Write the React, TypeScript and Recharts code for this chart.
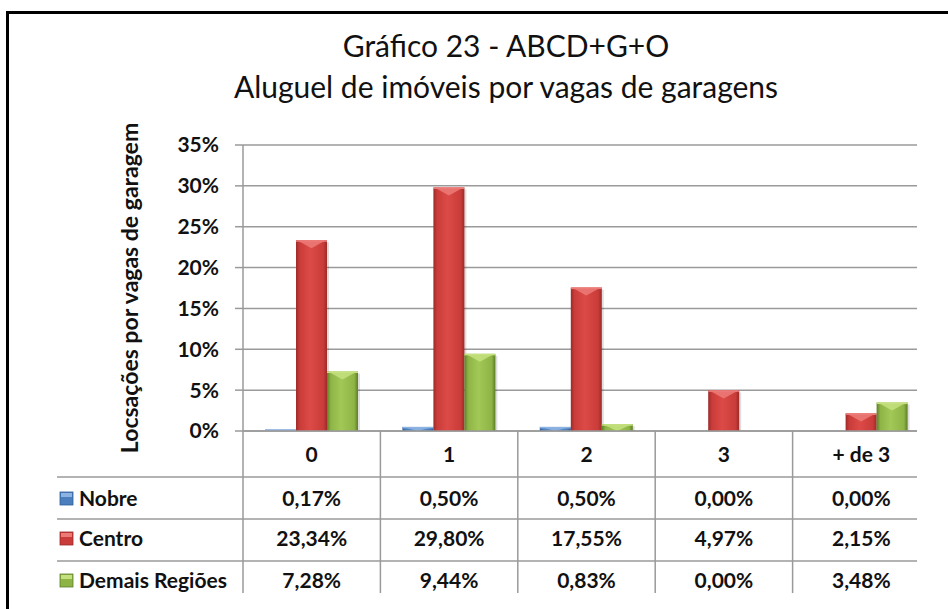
import React from 'react';
import { BarChart, Bar, XAxis, YAxis, CartesianGrid } from 'recharts';

const categories = ['0', '1', '2', '3', '+ de 3'];
const nobre = [0.17, 0.5, 0.5, 0.0, 0.0];
const centro = [23.34, 29.8, 17.55, 4.97, 2.15];
const demais = [7.28, 9.44, 0.83, 0.0, 3.48];
const yTicks = [0, 5, 10, 15, 20, 25, 30, 35];

const series = [
  { key: 'nobre', name: 'Nobre', values: nobre, dark: '#2f5f99', mid: '#4a7ebc', light: '#6e9ad0', top: '#8db3e2' },
  { key: 'centro', name: 'Centro', values: centro, dark: '#9c2b29', mid: '#c93c39', light: '#dc4a47', top: '#ec7b78' },
  { key: 'demais', name: 'Demais Regiões', values: demais, dark: '#5f7d28', mid: '#8db445', light: '#a2c957', top: '#c4e07f' },
];

const data = categories.map((c, i) => {
  const row: Record<string, any> = { cat: c };
  series.forEach((s) => (row[s.key] = s.values[i]));
  return row;
});

const W = 948;
const H = 609;
const PLOT_LEFT = 243;
const PLOT_RIGHT = 930;
const PLOT_TOP = 145;
const PLOT_BOTTOM = 431;
const CAT_W = (PLOT_RIGHT - PLOT_LEFT) / categories.length;
const ROW_LINES = [477, 519, 561];
const GRID = '#9a9a9a';
const FONT = 'Lato, "Noto Sans", sans-serif';

const fmt = (v: number) => v.toFixed(2).replace('.', ',') + '%';

const textStyle = { fontFamily: FONT, fontSize: 21, fontWeight: 700, fill: '#111' };

const BevelBar = (props: any) => {
  const { x, y, width, height, index, dataKey } = props;
  if (!height || height <= 0) return null;
  const s = series.find((d) => d.key === dataKey) || series[0];
  const id = `g-${dataKey}-${index}`;
  const b = Math.min(height, 8);
  return (
    <g>
      <defs>
        <linearGradient id={id} x1="0" y1="0" x2="1" y2="0">
          <stop offset="0%" stopColor={s.dark} />
          <stop offset="12%" stopColor={s.mid} />
          <stop offset="45%" stopColor={s.light} />
          <stop offset="88%" stopColor={s.mid} />
          <stop offset="100%" stopColor={s.dark} />
        </linearGradient>
      </defs>
      <rect x={x + 2} y={y + 2} width={width} height={Math.max(0, height - 2)} fill="rgba(0,0,0,0.13)" />
      <rect x={x} y={y} width={width} height={height} fill={`url(#${id})`} />
      <polygon points={`${x + 1},${y} ${x + width - 1},${y} ${x + width / 2},${y + b}`} fill={s.top} opacity={0.85} />
      <rect x={x} y={y} width={width} height={Math.min(height, 1.5)} fill={s.top} />
    </g>
  );
};

const TableTick = (props: any) => {
  const { x, y, payload } = props;
  const i = payload.index;
  const left = x - CAT_W / 2;
  return (
    <g>
      <line x1={left} x2={left} y1={PLOT_BOTTOM} y2={H} stroke={GRID} strokeWidth={1.5} />
      <text x={x} y={y + 31} textAnchor="middle" style={textStyle}>
        {payload.value}
      </text>
      {series.map((s, r) => (
        <text key={s.key} x={x} y={ROW_LINES[r] + 29 - (r > 0 ? 2 : 0)} textAnchor="middle" style={textStyle}>
          {fmt(s.values[i])}
        </text>
      ))}
    </g>
  );
};

export default function App() {
  return (
    <div style={{ position: 'absolute', left: 0, top: 0, width: W, height: H, background: '#fff', overflow: 'hidden' }}>
      <div style={{ position: 'absolute', left: 0, top: 0, width: 917, height: 593, overflow: 'hidden' }}>
        <BarChart
          width={W}
          height={H}
          data={data}
          margin={{ top: PLOT_TOP, right: W - PLOT_RIGHT, left: 0, bottom: 0 }}
          barGap={0}
          barSize={31}
        >
          <CartesianGrid vertical={false} stroke={GRID} strokeWidth={1.5} />
          <YAxis
            width={PLOT_LEFT}
            domain={[0, 35]}
            ticks={yTicks}
            tickFormatter={(v: number) => `${v}%`}
            tick={textStyle}
            tickSize={8}
            tickMargin={16}
            tickLine={{ stroke: GRID, strokeWidth: 1.5 }}
            axisLine={{ stroke: GRID, strokeWidth: 1.5 }}
          />
          <XAxis
            dataKey="cat"
            height={H - PLOT_BOTTOM}
            interval={0}
            tickSize={0}
            tickMargin={0}
            tickLine={false}
            axisLine={{ stroke: GRID, strokeWidth: 1.5 }}
            tick={<TableTick />}
          />
          {series.map((s) => (
            <Bar key={s.key} dataKey={s.key} name={s.name} fill={s.mid} shape={<BevelBar />} isAnimationActive={false} />
          ))}
        </BarChart>
        <svg width={W} height={H} style={{ position: 'absolute', left: 0, top: 0, pointerEvents: 'none' }}>
          <text x={506} y={57} textAnchor="middle" style={{ fontFamily: FONT, fontSize: 30, fill: '#111' }}>
            Gráfico 23 - ABCD+G+O
          </text>
          <text x={506} y={98} textAnchor="middle" style={{ fontFamily: FONT, fontSize: 30, fill: '#111' }}>
            Aluguel de imóveis por vagas de garagens
          </text>
          <text
            x={138}
            y={(PLOT_TOP + PLOT_BOTTOM) / 2}
            textAnchor="middle"
            transform={`rotate(-90 138 ${(PLOT_TOP + PLOT_BOTTOM) / 2})`}
            style={{ ...textStyle, fontSize: 23 }}
          >
            Locsações por vagas de garagem
          </text>
          {ROW_LINES.map((ly) => (
            <line key={ly} x1={57} x2={917} y1={ly} y2={ly} stroke={GRID} strokeWidth={1.5} />
          ))}
          {series.map((s, r) => {
            const base = ROW_LINES[r] + 29 - (r > 0 ? 2 : 0);
            return (
              <g key={s.key}>
                <rect x={60} y={base - 14} width={13} height={13} fill={s.mid} stroke={s.dark} strokeWidth={0.8} />
                <rect x={61} y={base - 13} width={11} height={4} fill={s.top} />
                <text x={79} y={base} style={textStyle}>
                  {s.name}
                </text>
              </g>
            );
          })}
        </svg>
      </div>
      <div
        style={{
          position: 'absolute',
          left: 6,
          top: 11,
          width: W + 20,
          height: H + 20,
          borderLeft: '3px solid #000',
          borderTop: '3px solid #000',
          pointerEvents: 'none',
        }}
      />
    </div>
  );
}
